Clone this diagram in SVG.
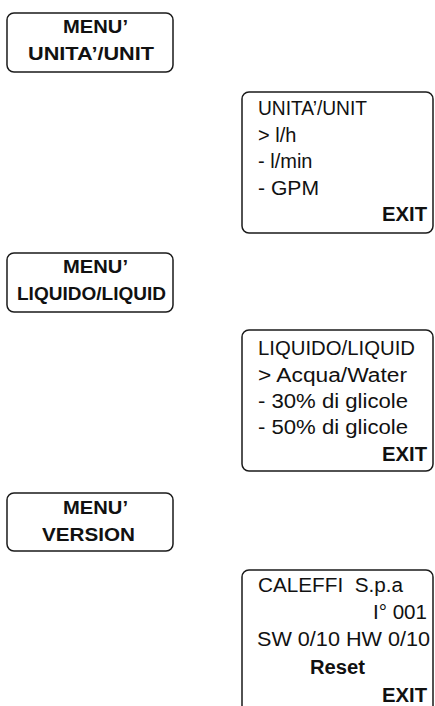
<svg xmlns="http://www.w3.org/2000/svg" width="435" height="706" viewBox="0 0 435 706">
<style>
.box{fill:#fff;stroke:#1a1a1a;stroke-width:1.5}
text{font-family:"Liberation Sans",Arial,sans-serif;fill:#111}
.b{font-weight:bold;font-size:18.5px}
.r{font-size:20px}
.rb{font-weight:bold;font-size:20px}
</style>
<rect width="435" height="706" fill="#fff"/>
<g id="menu-unit">
<rect class="box" x="7" y="13" width="166" height="59" rx="7"/>
<text class="b" x="63" y="33" textLength="65" lengthAdjust="spacingAndGlyphs">MENU’</text>
<text class="b" x="28" y="60" textLength="126" lengthAdjust="spacingAndGlyphs">UNITA’/UNIT</text>
</g>
<g id="screen-unit">
<rect class="box" x="242" y="92" width="191" height="141" rx="7"/>
<text class="r" x="258" y="115" textLength="109" lengthAdjust="spacingAndGlyphs">UNITA’/UNIT</text>
<text class="r" x="258" y="141.5">&gt; l/h</text>
<text class="r" x="258" y="168">- l/min</text>
<text class="r" x="258" y="194.5" textLength="61" lengthAdjust="spacingAndGlyphs">- GPM</text>
<text class="rb" x="382" y="221" textLength="45" lengthAdjust="spacingAndGlyphs">EXIT</text>
</g>
<g id="menu-liquid">
<rect class="box" x="7" y="253" width="166" height="59" rx="7"/>
<text class="b" x="63" y="273" textLength="65" lengthAdjust="spacingAndGlyphs">MENU’</text>
<text class="b" x="17" y="300" textLength="149" lengthAdjust="spacingAndGlyphs">LIQUIDO/LIQUID</text>
</g>
<g id="screen-liquid">
<rect class="box" x="242" y="330" width="191" height="141" rx="7"/>
<text class="r" x="258" y="355" textLength="157" lengthAdjust="spacingAndGlyphs">LIQUIDO/LIQUID</text>
<text class="r" x="258" y="381.5" textLength="149" lengthAdjust="spacingAndGlyphs">&gt; Acqua/Water</text>
<text class="r" x="258" y="407.5" textLength="150" lengthAdjust="spacingAndGlyphs">- 30% di glicole</text>
<text class="r" x="258" y="434" textLength="150" lengthAdjust="spacingAndGlyphs">- 50% di glicole</text>
<text class="rb" x="382" y="461" textLength="45" lengthAdjust="spacingAndGlyphs">EXIT</text>
</g>
<g id="menu-version">
<rect class="box" x="7" y="493" width="166" height="58" rx="7"/>
<text class="b" x="63" y="514" textLength="65" lengthAdjust="spacingAndGlyphs">MENU’</text>
<text class="b" x="42" y="541" textLength="93" lengthAdjust="spacingAndGlyphs">VERSION</text>
</g>
<g id="screen-version">
<rect class="box" x="242" y="570" width="191" height="160" rx="7"/>
<text class="r" x="258" y="592" textLength="145" lengthAdjust="spacingAndGlyphs" style="white-space:pre">CALEFFI  S.p.a</text>
<text class="r" x="373" y="618.5" textLength="54" lengthAdjust="spacingAndGlyphs">I° 001</text>
<text class="r" x="257" y="646" textLength="173" lengthAdjust="spacingAndGlyphs">SW 0/10 HW 0/10</text>
<text class="rb" x="310" y="674" textLength="55" lengthAdjust="spacingAndGlyphs">Reset</text>
<text class="rb" x="382" y="701.5" textLength="45" lengthAdjust="spacingAndGlyphs">EXIT</text>
</g>
<g id="connectors"></g>
</svg>
